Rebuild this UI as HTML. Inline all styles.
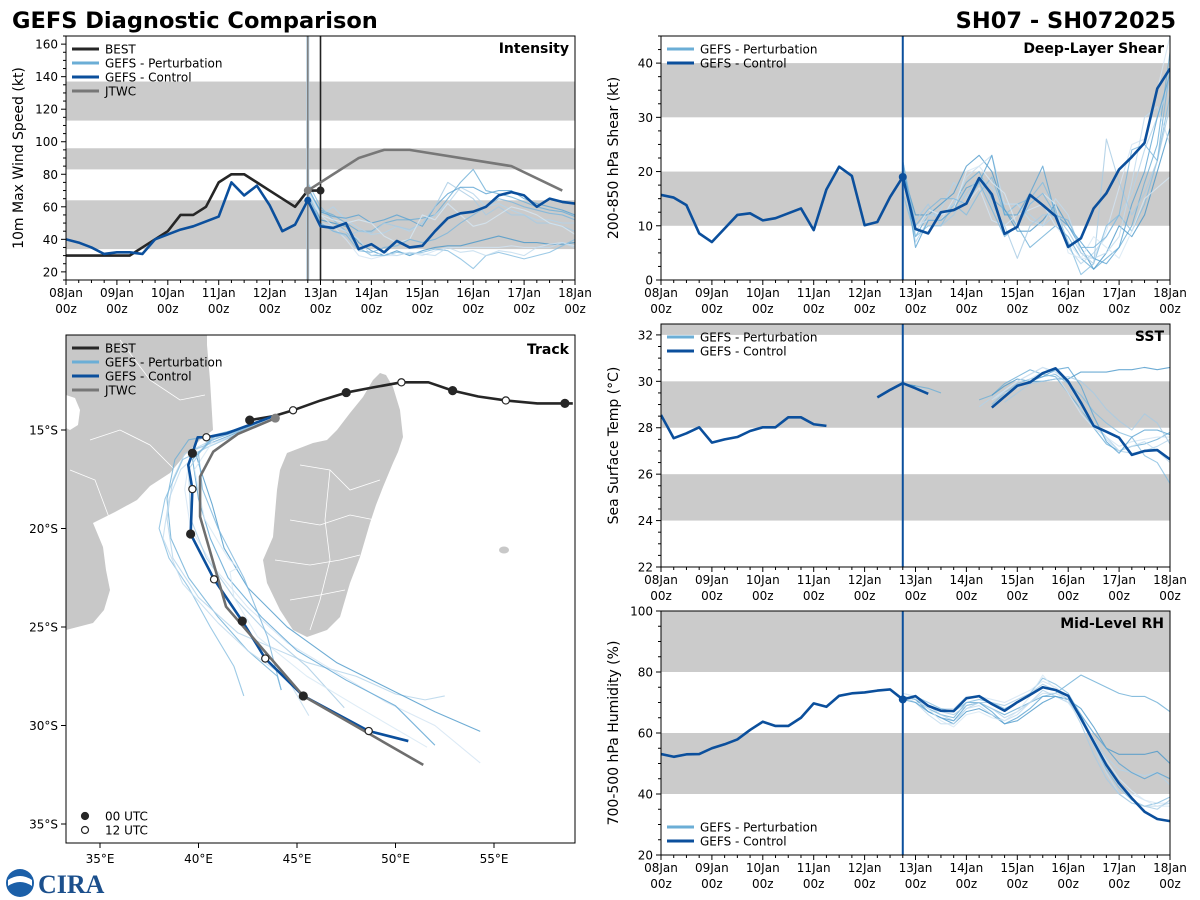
<!DOCTYPE html>
<html><head><meta charset="utf-8">
<style>
html,body{margin:0;padding:0;background:#fff;}
svg{display:block;font-family:"DejaVu Sans","Liberation Sans",sans-serif;}
</style></head>
<body>
<svg id="fig" width="1200" height="900" viewBox="0 0 1200 900" xmlns="http://www.w3.org/2000/svg">
<text x="12" y="28" font-size="22.5" font-weight="bold" fill="#000">GEFS Diagnostic Comparison</text>
<text x="1176" y="28" font-size="22.5" font-weight="bold" fill="#000" text-anchor="end">SH07 - SH072025</text>
<g>
<circle cx="20" cy="883" r="14" fill="#1b5fa8"/>
<path d="M8 880 Q20 872 32 880 L32 886 Q20 878 8 886Z" fill="#fff"/>
<text x="38" y="893" font-size="26" font-weight="bold" fill="#1b4f8c" font-family="Liberation Serif,serif">CIRA</text>
</g>
</svg>
<script>
// ---------- DATA ----------
const dayLabels = ["08Jan","09Jan","10Jan","11Jan","12Jan","13Jan","14Jan","15Jan","16Jan","17Jan","18Jan"];
const bestIntensity = [30,30,30,30,30,30,35,40,45,55,55,60,75,80,80,75,70,65,60,70,70];
const ctrlIntensity = [40,38,35,31,32,32,31,40,43,46,48,51,54,75,67,73,61,45,49,64,48,47,50,34,37,32,39,35,36,45,53,56,57,60,67,69,67,60,65,63,62];
const jtwcDays = [4.75,5.25,5.75,6.25,6.75,8.75,9.75];
const jtwcIntensity = [70,80,90,95,95,85,70];
const pertIntensity = [
[70,58,55,50,45,45,50,52,52,53,55,65,75,83,70,68,66,63,60,58,57,54],
[72,55,60,52,47,43,44,48,45,50,55,62,72,68,60,62,58,55,52,52,50,50],
[68,52,50,48,38,33,30,33,30,33,35,36,36,38,40,42,40,38,38,37,37,38],
[66,55,48,40,30,28,30,30,32,30,33,35,35,35,35,35,36,35,35,37,38,36],
[75,60,52,45,35,30,30,32,31,32,34,33,28,22,30,32,30,28,30,32,36,40],
[70,50,48,45,40,30,32,30,32,31,30,35,32,33,30,33,32,30,35,35,38,35],
[72,57,54,53,55,50,52,55,52,48,60,68,72,72,68,70,70,65,62,60,58,55],
[65,50,45,42,45,44,50,48,46,50,60,75,70,65,55,60,55,55,50,50,48,45],
[70,55,52,50,52,50,42,38,40,55,52,62,55,48,50,55,60,58,55,50,48,43],
[68,50,45,43,33,32,35,36,40,38,40,44,50,55,60,65,63,60,58,56,55,52]];
const ctrlShear = [15.7,15.2,13.8,8.6,7,9.5,12,12.3,11,11.4,12.3,13.2,9.2,16.7,20.9,19.2,10.1,10.7,15.3,19,9.4,8.6,12.5,12.9,14.1,18.8,15.8,8.5,9.8,15.7,13.8,11.8,6.1,7.7,13.2,16,20.4,22.7,25.3,35.3,39];
const pertShear = [
[22,8,12,12,14,18,20,15,13,10,6,8,10,8,4,2,4,6,10,18,25,42],
[19,7,11,13,18,15,19,17,14,14,12,10,12,6,3,5,8,12,16,24,30,36],
[20,12,12,14,16,21,23,20,13,9,9,11,14,10,6,2,5,10,8,12,20,28],
[18,10,11,11,15,14,17,11,10,12,13,14,10,7,4,4,9,17,25,26,35,45],
[16,8,10,10,14,12,16,19,12,14,15,18,13,7,1,3,10,12,9,14,22,34],
[20,9,12,12,14,19,21,23,14,14,11,10,15,12,5,4,5,8,18,30,32,25],
[21,6,11,11,13,17,18,23,12,12,16,21,12,10,7,4,3,6,14,20,30,38],
[19,11,14,10,12,16,19,14,10,4,10,12,12,9,5,3,26,18,12,16,22,32],
[18,9,13,12,13,20,21,18,16,10,14,16,14,5,4,8,6,4,9,15,17,19],
[22,10,13,15,15,14,18,13,8,10,14,16,12,11,6,6,8,12,24,25,22,39]];
const ctrlSST = [28.55,27.55,27.76,28.02,27.36,27.5,27.6,27.86,28.02,28.02,28.45,28.45,28.15,28.08,null,null,null,29.31,29.63,29.92,29.7,29.46,null,null,null,null,28.87,29.34,29.81,29.96,30.35,30.56,29.99,29.08,28.08,27.83,27.57,26.83,27.0,27.04,26.64];
const pertSST = [
[29.9,29.8,29.7,29.5,null,null,29.2,29.4,29.9,30.2,30.5,30.3,30.2,29.5,28.8,28.0,27.3,27.0,27.2,27.3,27.5,27.8],
[29.9,29.7,29.6,null,null,null,28.9,29.3,29.6,30.0,30.3,30.6,30.4,30.0,29.0,28.2,27.6,27.0,26.9,27.0,27.2,27.5],
[29.9,29.8,null,null,null,null,null,29.4,29.8,30.1,30.0,30.0,30.1,30.1,30.4,30.4,30.4,30.5,30.5,30.6,30.5,30.6],
[29.9,29.7,null,null,null,null,null,29.2,29.6,30.0,30.3,30.6,30.3,29.5,28.6,28.0,27.6,27.2,27.4,27.5,27.6,27.6],
[29.9,null,null,null,null,null,null,29.0,29.5,29.9,30.1,30.2,30.3,29.9,29.4,28.7,28.2,27.8,27.6,26.8,26.5,25.6],
[null,null,null,null,null,null,null,29.2,29.5,29.7,30.1,30.4,30.5,30.0,28.8,28.2,27.5,27.0,27.2,27.4,27.0,26.5],
[null,null,null,null,null,null,null,null,29.3,29.8,30.0,30.2,30.5,30.6,29.8,28.5,27.4,26.9,27.6,27.9,27.9,27.7],
[null,null,null,null,null,null,null,null,29.1,29.5,29.9,30.0,30.1,30.2,30.0,29.5,28.8,28.3,27.9,28.6,28.2,27.3]];
const ctrlRH = [53.1,52.2,53,53.1,55,56.3,57.9,61,63.7,62.3,62.3,65,69.7,68.6,72.2,73,73.3,73.9,74.3,71,72.1,68.9,67.3,67.2,71.4,72.1,69.5,67.3,70.1,72.5,75,74.1,72.2,64.8,57.1,49.5,43.5,38.6,34.2,31.8,31.1];
const pertRH = [
[72,71,68,66,65,70,70,68,66,68,70,72,73,76,79,77,75,73,72,72,70,67],
[73,72,69,66,64,68,70,68,65,67,70,74,72,70,65,58,52,48,47,46,47,43],
[72,71,67,65,63,67,68,66,63,64,67,70,72,71,68,62,55,53,53,53,54,50],
[72,70,69,68,68,72,72,71,70,72,74,77,75,72,66,58,50,43,40,38,37,37],
[71,72,70,68,67,70,71,70,68,70,73,78,76,73,66,56,48,42,38,36,37,39],
[72,70,66,63,63,68,69,66,64,66,70,73,73,71,65,56,47,40,37,36,36,37],
[71,70,67,65,64,69,70,67,63,65,68,72,72,71,66,60,55,50,47,45,47,45],
[72,71,69,67,66,69,70,70,69,71,73,76,74,71,63,53,45,40,37,36,35,38],
[73,72,68,64,62,66,67,65,64,67,72,79,74,70,64,57,51,45,41,38,36,36]];
// track (lon, lat)
const bestTrack = [[59.0,-13.65],[58.6,-13.65],[57.2,-13.65],[55.6,-13.5],[54.2,-13.3],[52.9,-13.0],[51.67,-12.58],[50.3,-12.58],[48.8,-12.85],[47.5,-13.1],[46.2,-13.5],[44.8,-14.0],[43.8,-14.3],[42.6,-14.5]];
const bestMarks = [[58.6,-13.65,0],[55.6,-13.5,12],[52.9,-13.0,0],[50.3,-12.58,12],[47.5,-13.1,0],[44.8,-14.0,12],[42.6,-14.5,0]];
const ctrlTrack = [[43.8,-14.3],[42.36,-14.83],[41.43,-15.17],[40.4,-15.37],[39.96,-15.37],[39.69,-16.18],[39.48,-16.78],[39.69,-18.0],[39.6,-20.28],[40.79,-22.58],[42.22,-24.7],[43.39,-26.6],[45.32,-28.5],[48.64,-30.28],[50.65,-30.79]];
const ctrlMarks = [[40.4,-15.37,12],[39.69,-16.18,0],[39.69,-18.0,12],[39.6,-20.28,0],[40.79,-22.58,12],[42.22,-24.7,0],[43.39,-26.6,12],[45.32,-28.5,0],[48.64,-30.28,12]];
const jtwcTrack = [[43.9,-14.4],[42.0,-15.2],[40.75,-16.1],[40.08,-17.37],[40.08,-19.4],[41.4,-23.97],[45.32,-28.5],[51.41,-32.0]];
const pertTracks = [
[[43.8,-14.3],[42.2,-14.9],[40.6,-15.3],[39.5,-15.5],[38.8,-16.5],[38.4,-18.5],[38.6,-20.5],[39.5,-22.5],[41,-24.5],[42.5,-26.2],[44,-27.5],[44.2,-28.2]],
[[43.8,-14.3],[42,-15],[40.5,-15.6],[39.3,-16.2],[38.7,-17.5],[38.4,-19.5],[38.7,-21.5],[40,-23.5],[42,-25.3],[45.5,-26.8],[48,-27.5],[50,-28.4],[51.5,-28.7],[52.5,-28.5]],
[[43.8,-14.3],[42.3,-15],[40.8,-15.6],[39.8,-16],[40.1,-17],[40.7,-18.8],[41.3,-21],[42.5,-23],[44.5,-25],[47,-26.8],[50,-28.3],[52,-29.3],[54.3,-30.3]],
[[43.8,-14.3],[42.2,-15.1],[40.6,-15.7],[39.6,-16.1],[39.3,-18],[39.6,-20],[40.8,-22],[42.5,-24],[44.5,-25.8],[47,-27.3],[49.5,-28.8],[52,-30],[54.3,-31.9]],
[[43.8,-14.3],[42,-15.2],[40.4,-15.9],[39.2,-16.5],[38.3,-18.5],[38.0,-20],[38.5,-21.5],[39.5,-23],[40.6,-25],[41.8,-27],[42.3,-28.5]],
[[43.8,-14.3],[42.1,-15.1],[40.2,-16],[39.1,-17],[38.5,-18.5],[38.2,-20.5],[39.2,-22.8],[41,-24.8],[42.5,-26.2],[44.5,-27.6],[45.6,-29.5]],
[[43.8,-14.3],[42.3,-14.9],[40.7,-15.4],[39.7,-16.5],[40,-18.5],[40.6,-20.5],[41.5,-22.5],[43.2,-24.5],[45,-26.2],[47.5,-27.7],[50,-29],[52,-31.0]],
[[43.8,-14.3],[42.1,-15],[40.5,-15.5],[39.5,-17],[39.6,-19.5],[40.4,-21.5],[41.8,-23.5],[43.5,-25.3],[45.5,-27],[47.4,-29.1]],
[[43.8,-14.3],[42.4,-14.9],[40.9,-15.3],[39.8,-17],[40.3,-19.5],[41.5,-21.5],[42,-22],[41.6,-22.2],[41.8,-23.5],[43,-25.5],[45.5,-27.5],[48,-29],[51.6,-31.1]],
[[43.8,-14.3],[42.2,-15],[40.7,-15.5],[40,-16.2],[40.2,-18],[41,-20],[42.3,-22.5],[43.5,-25.5],[44.2,-28.2]]];

// ---------- DRAW ----------
const NS="http://www.w3.org/2000/svg";
const svg=document.getElementById('fig');
function el(tag,attrs,parent){const e=document.createElementNS(NS,tag);for(const k in attrs)e.setAttribute(k,attrs[k]);(parent||svg).appendChild(e);return e;}
const pertColors=["#6baed6","#b3d3ea","#4a97c9","#d2e4f2","#85bde0","#c0dbee","#5aa3d2","#a6cbe3","#d6e7f4","#7ab5dc"];
const CTRL="#0b4f9c";
let clipN=0;
function panel(name,L,T,W,H,y0,y1,major,minor,bands,ytitle){
  const g=el('g',{});
  
  
  const id='clip'+(clipN++);
  const cp=el('clipPath',{id:id},g);el('rect',{x:L,y:T,width:W,height:H},cp);
  const sx=d=>L+d/10*W, sy=v=>T+H-(v-y0)/(y1-y0)*H;
  const plot=el('g',{'clip-path':'url(#'+id+')'},g);
  bands.forEach(b=>{const r=el('rect',{x:L,y:sy(b[1]),width:W,height:sy(b[0])-sy(b[1]),fill:'#cbcbcb'},plot);
    });
  for(let v=y0;v<=y1+1e-6;v+=minor){const y=sy(v);const isMaj=Math.abs(v/major-Math.round(v/major))<1e-6;
    el('line',{x1:L-(isMaj?5:3),x2:L,y1:y,y2:y,stroke:'#000','stroke-width':1},g);
    if(isMaj){const t=el('text',{x:L-8,y:y+4.5,'font-size':12,'text-anchor':'end'},g);t.textContent=v;
      }}
  for(let i=0;i<=40;i++){const x=sx(i/4);const isMaj=i%4===0;
    el('line',{x1:x,x2:x,y1:T+H,y2:T+H+(isMaj?5:3),stroke:'#000','stroke-width':1},g);
    if(isMaj){const t=el('text',{x:x,y:T+H+17,'font-size':12,'text-anchor':'middle'},g);t.textContent=dayLabels[i/4];
      
      const t2=el('text',{x:x,y:T+H+33,'font-size':12,'text-anchor':'middle'},g);t2.textContent='00z';
      }}
  const yt=el('text',{x:0,y:0,'font-size':14,'text-anchor':'middle',transform:`translate(${L-43},${T+H/2}) rotate(-90)`},g);
  yt.textContent=ytitle;
  return {g,plot,sx,sy,L,T,W,H};
}
function frame(p){el('rect',{x:p.L,y:p.T,width:p.W,height:p.H,fill:'none',stroke:'#000','stroke-width':1},p.g);}
function series(p,vals,startIdx,color,width,nm,op){
  let segs=[],cur=[];
  vals.forEach((v,i)=>{if(v===null){if(cur.length)segs.push(cur);cur=[];}else cur.push([p.sx((startIdx+i)/4),p.sy(v)]);});
  if(cur.length)segs.push(cur);
  segs.forEach(s=>{const pl=el('polyline',{points:s.map(q=>q.join(',')).join(' '),fill:'none',stroke:color,'stroke-width':width,'stroke-linejoin':'round','stroke-opacity':op||1},p.plot);
    });
}
function vline(p,d,color,w){const l=el('line',{x1:p.sx(d),x2:p.sx(d),y1:p.T,y2:p.T+p.H,stroke:color,'stroke-width':w},p.plot);
  }
function dot(p,d,v,color,r){const c=el('circle',{cx:p.sx(d),cy:p.sy(v),r:r||4,fill:color},p.plot);
  }
function title(p,txt){const t=el('text',{x:p.L+p.W-6,y:p.T+17,'font-size':14,'font-weight':'bold','text-anchor':'end'},p.g);t.textContent=txt;
  }
function legend(p,x,y,items){items.forEach((it,i)=>{const yy=y+i*14;
  const l=el('line',{x1:x,x2:x+27,y1:yy,y2:yy,stroke:it[1],'stroke-width':3},p.g);
  
  const t=el('text',{x:x+33,y:yy+4.5,'font-size':12},p.g);t.textContent=it[0];
  });}
const PW=1.1, PO=0.8;

// Intensity
const pA=panel('intensity',66,36,509,244,15,165,20,5,[[34,64],[83,96],[113,137]],'10m Max Wind Speed (kt)');
pertIntensity.forEach((s,k)=>series(pA,s,19,pertColors[k],PW,'perturbation-intensity',PO));
vline(pA,4.75,'#b9d3e6',3);vline(pA,4.75,'#808080',1.6);vline(pA,5,'#222',1.6);
series(pA,bestIntensity,0,'#262626',2.6,'best-intensity');
series(pA,ctrlIntensity,0,CTRL,2.6,'control-intensity');
(function(){const pts=jtwcDays.map((d,i)=>[pA.sx(d),pA.sy(jtwcIntensity[i])].join(',')).join(' ');
 const pl=el('polyline',{points:pts,fill:'none',stroke:'#777','stroke-width':2.6},pA.plot);
 })();
dot(pA,4.75,64,CTRL,3.5);dot(pA,4.75,70,'#808080',4);dot(pA,5,70,'#262626',4);
frame(pA);title(pA,'Intensity');
legend(pA,72,49,[['BEST','#262626'],['GEFS - Perturbation','#6baed6'],['GEFS - Control',CTRL],['JTWC','#777']]);

// Shear
const pB=panel('shear',661,36,509,244,0,45,10,2.5,[[10,20],[30,40]],'200-850 hPa Shear (kt)');
pertShear.forEach((s,k)=>series(pB,s,19,pertColors[k],PW,'perturbation-shear',PO));
series(pB,ctrlShear,0,CTRL,2.6,'control-shear');
vline(pB,4.75,CTRL,2);dot(pB,4.75,19,CTRL,4);
frame(pB);title(pB,'Deep-Layer Shear');
legend(pB,667,49,[['GEFS - Perturbation','#6baed6'],['GEFS - Control',CTRL]]);

// SST
const pD=panel('sst',661,324,509,243,22,32.47,2,0.5,[[24,26],[28,30],[32,34]],'Sea Surface Temp (°C)');
pertSST.forEach((s,k)=>series(pD,s,19,pertColors[k],PW,'perturbation-sst',PO));
series(pD,ctrlSST,0,CTRL,2.6,'control-sst');
vline(pD,4.75,CTRL,2);
frame(pD);title(pD,'SST');
legend(pD,667,337,[['GEFS - Perturbation','#6baed6'],['GEFS - Control',CTRL]]);

// RH
const pE=panel('rh',661,611,509,244,20,100,20,5,[[40,60],[80,100]],'700-500 hPa Humidity (%)');
pertRH.forEach((s,k)=>series(pE,s,19,pertColors[k],PW,'perturbation-rh',PO));
series(pE,ctrlRH,0,CTRL,2.6,'control-rh');
vline(pE,4.75,CTRL,2);dot(pE,4.75,71,CTRL,4);
frame(pE);title(pE,'Mid-Level RH');
legend(pE,667,827,[['GEFS - Perturbation','#6baed6'],['GEFS - Control',CTRL]]);

// Track
(function(){
 const L=66,T=335,W=509,H=508;
 const g=el('g',{});
 const cp=el('clipPath',{id:'clipTrack'},g);el('rect',{x:L,y:T,width:W,height:H},cp);
 const plot=el('g',{'clip-path':'url(#clipTrack)'},g);
 const X=lon=>100+(lon-35)*19.7, Y=lat=>430+(-15-lat)*19.7;
 const africa=el('polygon',{points:"60,330 207,330 207,345 210,380 213,430 200,440 185,455 170,473 150,486 137,500 115,512 93,523 98,535 103,547 106,570 110,590 104,610 93,623 66,630 60,632",fill:'#c8c8c8'},plot);
 
 const lake=el('polygon',{points:"66,395 75,398 80,410 78,425 70,430 66,428",fill:'#fff'},plot);
 
 const mada=el('polygon',{points:"380,373 386,375 393,387 400,410 403,437 398,452 393,463 383,487 376,505 370,523 360,557 350,583 340,617 327,630 307,637 293,630 280,610 267,583 263,560 273,537 277,490 280,470 287,453 313,443 327,440 337,430 350,413 363,397 373,380",fill:'#c8c8c8'},plot);
 
 ["120,340 150,380 180,400 205,395","90,440 120,430 150,445 175,470","70,470 95,480 110,520","300,465 330,470 350,490 380,480","290,520 320,525 350,515 375,520","275,560 310,565 340,560 360,555","290,600 320,595 345,590","330,470 325,520 330,560 320,600 310,630"].forEach(p=>{
   const l=el('polyline',{points:p,fill:'none',stroke:'#fff','stroke-width':0.8},plot);
   });
 const isl=el('ellipse',{cx:504,cy:550,rx:5,ry:3.5,fill:'#c8c8c8'},plot);
 
 function line(pts,color,w,nm,op){const pl=el('polyline',{points:pts.map(p=>X(p[0])+','+Y(p[1])).join(' '),fill:'none',stroke:color,'stroke-width':w,'stroke-linejoin':'round','stroke-opacity':op||1},plot);
   }
 pertTracks.forEach((t,k)=>line(t,pertColors[k],1.1,'perturbation-track',PO));
 line(bestTrack,'#262626',2.6,'best-track');
 line(ctrlTrack,CTRL,2.6,'control-track');
 line(jtwcTrack,'#6e6e6e',2.6,'jtwc-track');
 function mark(m){const c=el('circle',{cx:X(m[0]),cy:Y(m[1]),r:m[2]===0?4:3.6,fill:m[2]===0?'#262626':'#fff',stroke:'#262626','stroke-width':1.2},plot);
   }
 bestMarks.forEach(mark);ctrlMarks.forEach(mark);
 const gm=el('circle',{cx:X(43.9),cy:Y(-14.4),r:4.5,fill:'#808080'},plot);
 
 el('rect',{x:L,y:T,width:W,height:H,fill:'none',stroke:'#000','stroke-width':1},g);
 [[35,'35°E'],[40,'40°E'],[45,'45°E'],[50,'50°E'],[55,'55°E']].forEach(a=>{const x=X(a[0]);
   el('line',{x1:x,x2:x,y1:T+H,y2:T+H+5,stroke:'#000'},g);
   const t=el('text',{x:x,y:T+H+20,'font-size':12,'text-anchor':'middle'},g);t.textContent=a[1];
   });
 [[-15,'15°S'],[-20,'20°S'],[-25,'25°S'],[-30,'30°S'],[-35,'35°S']].forEach(a=>{const y=Y(a[0]);
   el('line',{x1:L-5,x2:L,y1:y,y2:y,stroke:'#000'},g);
   const t=el('text',{x:L-8,y:y+4.5,'font-size':12,'text-anchor':'end'},g);t.textContent=a[1];
   });
 const tt=el('text',{x:L+W-6,y:T+19,'font-size':14,'font-weight':'bold','text-anchor':'end'},g);tt.textContent='Track';
 
 [['BEST','#262626'],['GEFS - Perturbation','#6baed6'],['GEFS - Control',CTRL],['JTWC','#777']].forEach((it,i)=>{const yy=348+i*14;
   const l=el('line',{x1:72,x2:99,y1:yy,y2:yy,stroke:it[1],'stroke-width':3},g);
   
   const t=el('text',{x:105,y:yy+4.5,'font-size':12},g);t.textContent=it[0];
   });
 [[0,'00 UTC'],[12,'12 UTC']].forEach((it,i)=>{const yy=816+i*14;
   const c=el('circle',{cx:85,cy:yy,r:3.5,fill:it[0]===0?'#262626':'#fff',stroke:'#262626','stroke-width':1.2},g);
   
   const t=el('text',{x:105,y:yy+4.5,'font-size':12},g);t.textContent=it[1];
   });
})();
</script>
</body></html>
